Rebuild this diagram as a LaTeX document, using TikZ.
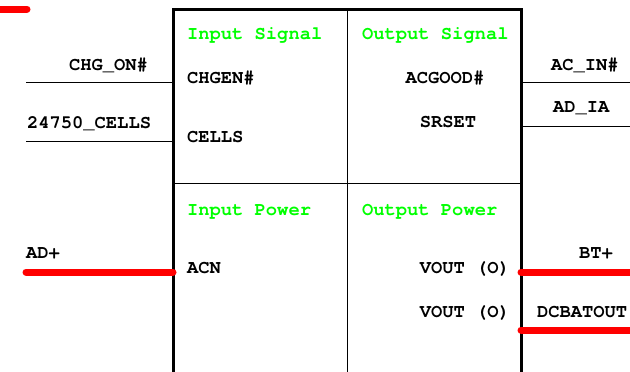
\documentclass[tikz,border=0pt]{standalone}
\usepackage{fontspec}
\setmainfont{TeX Gyre Cursor}
\usepackage{tikz}
\usetikzlibrary{positioning}
\usepackage{xcolor}
\definecolor{pinred}{RGB}{255,0,0}
\definecolor{hdrgreen}{RGB}{0,255,0}

\begin{document}
\begin{tikzpicture}[x=0.5pt, y=-0.5pt,
  every node/.style={font=\fontsize{9.4}{11}\selectfont\bfseries, inner sep=0pt, outer sep=0pt},
  hdr/.style={text=hdrgreen},
  sig/.style={line width=0.5pt},
  pwr/.style={line width=3.5pt, pinred, line cap=round}]
  \useasboundingbox (0,0) rectangle (630,371);
  \clip (0,0) rectangle (630,371);

  % block body, runs past the lower edge
  \node[draw, line width=1.5pt, anchor=north west, minimum width=174pt, minimum height=220pt] (blk) at (173,9) {};
  \coordinate (mid) at (173,183);
  \draw[sig] (blk.north) -- (blk.south);
  \draw[sig] (mid) -- (mid -| blk.east);

  % section headers
  \node[hdr, anchor=base west] (insig) at (187,39) {Input Signal};
  \node[hdr, anchor=base west] (outsig) at (362,39) {Output Signal};
  \node[hdr, anchor=base west] (inpwr) at (187,215) {Input Power};
  \node[hdr, anchor=base west] (outpwr) at (362,215) {Output Power};

  % pin names inside
  \node[anchor=base west] (chgen) at (187,83) {CHGEN\#};
  \node[anchor=base west] (cells) at (187,142) {CELLS};
  \node[anchor=base] (acgood) at (445,83) {ACGOOD\#};
  \node[anchor=base] (srset) at (448,127) {SRSET};
  \node[anchor=base west] (acn) at (187,273) {ACN};
  \node[anchor=base east] (vout1) at (510,273) {VOUT (O)};
  \node[anchor=base east] (vout2) at (510,317) {VOUT (O)};

  % net names outside
  \node[anchor=base east] (chgon) at (148,70) {CHG\_ON\#};
  \node[anchor=base west] (ncells) at (27,128) {24750\_CELLS};
  \node[anchor=base west] (adp) at (26,258) {AD+};
  \node[anchor=base west] (acin) at (551,70) {AC\_IN\#};
  \node[anchor=base west] (adia) at (553,112) {AD\_IA};
  \node[anchor=base east] (btp) at (613,258) {BT+};
  \node[anchor=base west] (dcbat) at (537,317) {DCBATOUT};

  % wire ends
  \coordinate (w1) at (26,82);
  \coordinate (w2) at (26,141);
  \coordinate (w3) at (26,272);
  \coordinate (e1) at (640,82);
  \coordinate (e2) at (640,126);
  \coordinate (e3) at (640,272);
  \coordinate (e4) at (640,330);
  \coordinate (stub) at (-10,9);

  % wires
  \draw[sig] (w1) -- (w1 -| blk.west);
  \draw[sig] (w2) -- (w2 -| blk.west);
  \draw[sig] (e1 -| blk.east) -- (e1);
  \draw[sig] (e2 -| blk.east) -- (e2);
  \draw[pwr] (w3) -- (w3 -| blk.west);
  \draw[pwr] (e3 -| blk.east) -- (e3);
  \draw[pwr] (e4 -| blk.east) -- (e4);
  \draw[pwr] (stub) -- ++(37,0);
\end{tikzpicture}
\end{document}
